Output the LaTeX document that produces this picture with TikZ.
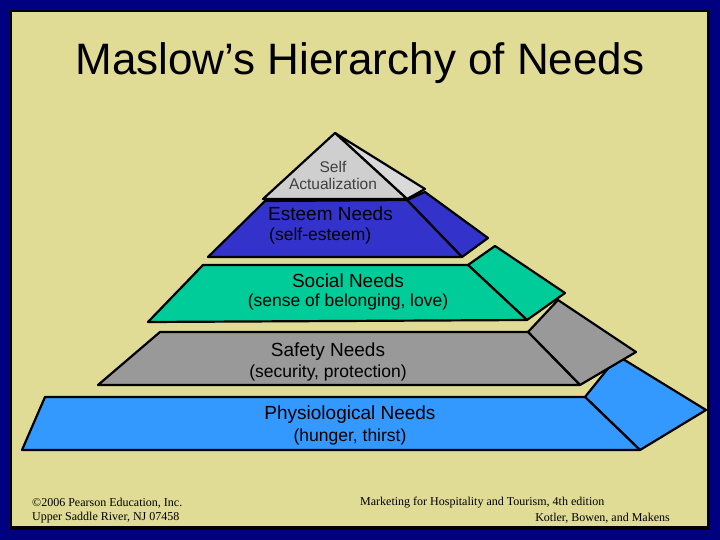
\documentclass[tikz,border=0pt]{standalone}
\usepackage{fontspec}
\setmainfont{Liberation Sans}
\newfontfamily\footfont{Liberation Serif}
\usetikzlibrary{positioning}
\definecolor{slidebg}{HTML}{E0DC96}
\definecolor{frameblue}{HTML}{000080}
\definecolor{selfgray}{HTML}{CFCFCF}
\definecolor{esteemblue}{HTML}{3333CC}
\definecolor{socialgreen}{HTML}{00CC99}
\definecolor{safetygray}{HTML}{999999}
\definecolor{physblue}{HTML}{3399FF}
\tikzset{
  layer/.style={draw=black, line width=2.2pt, line join=round},
  lbl/.style={font=\fontsize{19}{21}\selectfont, inner sep=0pt},
  sublbl/.style={font=\fontsize{17.5}{19}\selectfont, inner sep=0pt},
  foot/.style={font=\footfont\fontsize{12}{14}\selectfont, inner sep=0pt}
}
\begin{document}
\begin{tikzpicture}[x=1pt, y=-1pt]
        \useasboundingbox (0,0) rectangle (720,540);
        % Frame
        \fill[frameblue] (0,0) rectangle (720,540);
        \fill[black] (10,10) rectangle (710,530);
        \fill[slidebg] (12,12) rectangle (707,526);
        % Title
        \node[font=\fontsize{44}{48}\selectfont] (title) at (360,63) {Maslow’s Hierarchy of Needs};
        % Physiological
        \draw[layer, fill=physblue] (585,397) -- (618,356) -- (706,410) -- (640,450) -- cycle;
        \draw[layer, fill=physblue] (45,397) -- (585,397) -- (640,450) -- (22,450) -- cycle;
        % Safety
        \draw[layer, fill=safetygray] (528,332) -- (558,300) -- (636,352) -- (580,385) -- cycle;
        \draw[layer, fill=safetygray] (160,332) -- (528,332) -- (580,385) -- (98,385) -- cycle;
        % Social
        \draw[layer, fill=socialgreen] (468,265) -- (495,246) -- (565,293) -- (527,320) -- cycle;
        \draw[layer, fill=socialgreen] (203,265) -- (468,265) -- (527,320) -- (148,322) -- cycle;
        % Esteem
        \draw[layer, fill=esteemblue] (407,200) -- (425,192) -- (488,238) -- (462,257) -- cycle;
        \draw[layer, fill=esteemblue] (265,201) -- (407,200) -- (462,257) -- (208,257) -- cycle;
        % Self actualization
        \draw[layer, fill=selfgray!80] (335,133) -- (425,189) -- (407,199) -- cycle;
        \draw[layer, fill=selfgray] (335,133) -- (407,199) -- (263,199) -- cycle;
        % Labels
        \node[font=\fontsize{15.5}{17}\selectfont, text=black!75, align=center, inner sep=0pt] (self) at (333,175) {Self\\Actualization};
        \node[lbl, anchor=west] (esteem) at (268,214) {Esteem Needs};
        \node[sublbl, anchor=west] (esteemsub) at (269,236) {(self-esteem)};
        \node[lbl] (social) at (348,281) {Social Needs};
        \node[sublbl] (socialsub) at (348,302) {(sense of belonging, love)};
        \node[lbl] (safety) at (328,352) {Safety Needs};
        \node[sublbl] (safetysub) at (328,373) {(security, protection)};
        \node[lbl] (phys) at (350,415) {Physiological Needs};
        \node[sublbl] (physsub) at (350,437) {(hunger, thirst)};
        % Footer
        \node[foot, anchor=west] (copy) at (32,503) {©2006 Pearson Education, Inc.};
        \node[foot, anchor=west] (addr) at (32,518) {Upper Saddle River, NJ 07458};
        \node[foot, anchor=west] (book) at (360,503) {Marketing for Hospitality and Tourism, 4th edition};
        \node[foot, anchor=east] (authors) at (670,518) {Kotler, Bowen, and Makens};
    \end{tikzpicture}
\end{document}
